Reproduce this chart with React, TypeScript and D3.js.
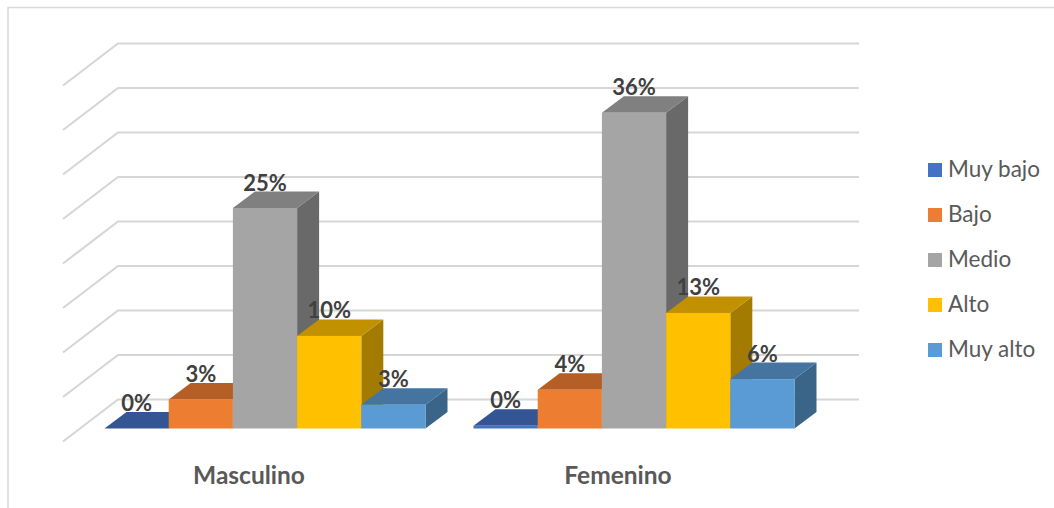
import React from "react";
import * as d3 from "d3";

const categories = ["Masculino", "Femenino"];
const seriesNames = ["Muy bajo", "Bajo", "Medio", "Alto", "Muy alto"];
const muyBajo = [0, 0.3];
const bajo = [3.3, 4.4];
const medio = [25, 35.8];
const alto = [10.5, 13.1];
const muyAlto = [2.7, 5.6];
const gridTicks = [0, 5, 10, 15, 20, 25, 30, 35, 40];
const seriesValues = [muyBajo, bajo, medio, alto, muyAlto];
const valueLabels = [["0%", "0%"], ["3%", "4%"], ["25%", "36%"], ["10%", "13%"], ["3%", "6%"]];
const frontColors = ["#4472C4", "#ED7D31", "#A5A5A5", "#FFC000", "#5B9BD5"];
const topColors = ["#335593", "#B55E25", "#808080", "#C29100", "#44749F"];
const sideColors = ["#2B4A80", "#9C5120", "#696969", "#A37B00", "#3A6488"];

const W = 1054, H = 508;
const FONT = "Lato, Carlito, 'Open Sans', sans-serif";
const baseY = 428.5;
const depthX = 22, depthY = -16.5;
const wallX = 118, gridRight = 859;
const wallDX = -55, wallDY = 42;

const y = d3.scaleLinear().domain([0, 40]).range([baseY, baseY - 352.8]);
const gridY = d3.scaleLinear().domain([0, 40]).range([399.5, 43.5]);
const groupX = d3.scaleBand().domain(categories).range([80.5, 818.5]);
const barX = d3.scaleBand().domain(seriesNames).range([24, 345]);
const legendY = d3.scalePoint().domain(seriesNames).range([170, 350]);
const poly = (pts: number[][]) => pts.map((p) => p.join(",")).join(" ");

export default function App() {
  return (
    <svg width={W} height={H} viewBox={`0 0 ${W} ${H}`} style={{ position: "absolute", left: 0, top: 0, background: "#fff" }}>
      <path d={`M8 ${H}V7.5H${W}`} fill="none" stroke="#D9D9D9" strokeWidth={1.5} />
      {gridTicks.map((t) => {
        const yy = gridY(t);
        return (
          <path key={t} d={`M${wallX + wallDX} ${yy + wallDY}L${wallX} ${yy}H${gridRight}`} fill="none" stroke="#D6D6D6" strokeWidth={2.2} />
        );
      })}
      {categories.map((c, ci) => (
        <g key={c}>
          {seriesNames.map((s, si) => {
            const x0 = groupX(c)! + barX(s)!;
            const bw = barX.bandwidth();
            const v = seriesValues[si][ci];
            const top = y(v);
            return (
              <g key={s}>
                <polygon points={poly([[x0 + bw, top], [x0 + bw + depthX, top + depthY], [x0 + bw + depthX, baseY + depthY], [x0 + bw, baseY]])} fill={sideColors[si]} />
                <polygon points={poly([[x0, top], [x0 + depthX, top + depthY], [x0 + bw + depthX, top + depthY], [x0 + bw, top]])} fill={topColors[si]} />
                <rect x={x0} y={top} width={bw} height={baseY - top} fill={frontColors[si]} />
              </g>
            );
          })}
          {seriesNames.map((s, si) => {
            const v = seriesValues[si][ci];
            return (
              <text key={s} x={groupX(c)! + barX(s)! + barX.bandwidth() / 2} y={y(v) - 17.5} textAnchor="middle" fontFamily={FONT} fontWeight={700} fontSize={22} fill="#404040">
                {valueLabels[si][ci]}
              </text>
            );
          })}
          <text x={groupX(c)! + (barX.range()[0] + barX.range()[1]) / 2 - 16} y={484} textAnchor="middle" fontFamily={FONT} fontWeight={700} fontSize={24.5} fill="#595959">
            {c}
          </text>
        </g>
      ))}
      {seriesNames.map((s, si) => (
        <g key={s}>
          <rect x={928} y={legendY(s)! - 7} width={14} height={14} fill={frontColors[si]} />
          <text x={948} y={legendY(s)! + 6.5} fontFamily={FONT} fontSize={22.5} fill="#595959">{s}</text>
        </g>
      ))}
    </svg>
  );
}
